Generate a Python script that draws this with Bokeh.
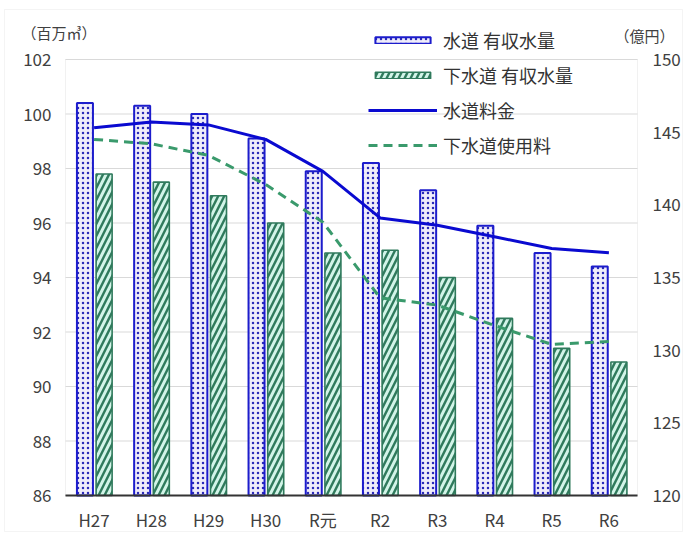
from bokeh.plotting import figure
from bokeh.models import (Range1d, LinearAxis, FixedTicker, Legend, LegendItem,
                          Label, BoxAnnotation)
from bokeh.transform import dodge
from bokeh.embed import file_html
from bokeh.resources import INLINE

years = ["H27", "H28", "H29", "H30", "R元", "R2", "R3", "R4", "R5", "R6"]
water_volume = [100.4, 100.3, 100.0, 99.1, 97.9, 98.2, 97.2, 95.9, 94.9, 94.4]
sewer_volume = [97.8, 97.5, 97.0, 96.0, 94.9, 95.0, 94.0, 92.5, 91.4, 90.9]
water_fee = [145.3, 145.7, 145.5, 144.5, 142.3, 139.1, 138.6, 137.8, 137.0, 136.7]
sewer_fee = [144.5, 144.2, 143.4, 141.4, 138.8, 133.6, 133.1, 131.7, 130.4, 130.6]
left_ticks = [86, 88, 90, 92, 94, 96, 98, 100, 102]
right_ticks = [120, 125, 130, 135, 140, 145, 150]
series_names = ["水道 有収水量", "下水道 有収水量", "水道料金", "下水道使用料"]
left_title = "（百万㎥）"
right_title = "（億円）"

FONT = "Noto Sans CJK JP"
TXT = "#404040"

# canvas size and plot-box / outer-border positions (pixels inside the canvas)
W, H = 686, 535
BOX_L, BOX_R, BOX_T, BOX_B = 65, 637, 59, 495
OUT_L, OUT_R, OUT_T, OUT_B = 4, 682, 9, 531

idx = list(range(len(years)))
n = len(years)
x0, x1 = -0.5, n - 0.5
xs = (BOX_R - BOX_L) / (x1 - x0)
lo, hi = left_ticks[0], left_ticks[-1]
ys = (BOX_B - BOX_T) / (hi - lo)
rlo, rhi = right_ticks[0], right_ticks[-1]
rs = (BOX_B - BOX_T) / (rhi - rlo)

xstart = x0 - BOX_L / xs
ystart = lo - (H - BOX_B) / ys


def px_x(px):
    return xstart + px / xs


def px_y(py):
    return ystart + (H - py) / ys


data = dict(x=idx, year=years, wv=water_volume, sv=sewer_volume, wf=water_fee, sf=sewer_fee)

p = figure(width=W, height=H,
           x_range=Range1d(xstart, x1 + (W - BOX_R) / xs),
           y_range=Range1d(ystart, hi + BOX_T / ys),
           x_axis_location=None, y_axis_location=None,
           output_backend="svg", toolbar_location=None,
           min_border=0)
p.extra_y_ranges = {"fee": Range1d(rlo - (H - BOX_B) / rs, rhi + BOX_T / rs)}
p.outline_line_color = None
p.xgrid.visible = False
p.ygrid.visible = False

# outer chart border
p.add_layout(BoxAnnotation(left=px_x(OUT_L), right=px_x(OUT_R), top=px_y(OUT_T),
                           bottom=px_y(OUT_B), fill_alpha=0, line_color="#d9d9d9",
                           line_width=1, level="underlay"))
# grid lines and plot box
p.segment(x0=[x0] * len(left_ticks), x1=[x1] * len(left_ticks), y0=left_ticks, y1=left_ticks,
          line_color="#d9d9d9", line_width=1)
p.add_layout(BoxAnnotation(left=x0, right=x1, bottom=lo, top=hi, fill_alpha=0,
                           line_color="#d0d0d0", line_width=1, level="underlay"))

r1 = p.vbar(x=dodge("x", -0.16), top="wv", bottom=lo,
            width=0.28, source=data, fill_color="#efecfa", line_color="#1c1ccc",
            line_width=2, hatch_pattern="dot", hatch_color="#2a2ab8",
            hatch_scale=5, hatch_weight=1.6)
r2 = p.vbar(x=dodge("x", 0.175), top="sv", bottom=lo,
            width=0.28, source=data, fill_color="#d2f4e8", line_color="#2f7a5c",
            line_width=1.6, hatch_pattern="right_diagonal_line", hatch_color="#2f7a5c",
            hatch_scale=12, hatch_weight=2.4)
r3 = p.line(x="x", y="wf", source=data, y_range_name="fee",
            line_color="#0a0ad0", line_width=3)
r4 = p.line(x="x", y="sf", source=data, y_range_name="fee",
            line_color="#3a9a6c", line_width=3, line_dash="9 6")

ax_l = LinearAxis(fixed_location=x0, ticker=FixedTicker(ticks=left_ticks), bounds=(lo, hi))
ax_r = LinearAxis(y_range_name="fee", fixed_location=x1,
                  ticker=FixedTicker(ticks=right_ticks), bounds=(rlo, rhi))
ax_b = LinearAxis(fixed_location=lo, ticker=FixedTicker(ticks=idx), bounds=(x0, x1),
                  major_label_overrides={i: y for i, y in zip(idx, years)})
p.add_layout(ax_l, "left")
p.add_layout(ax_r, "right")
p.add_layout(ax_b, "below")

for ax in (ax_l, ax_r, ax_b):
    ax.major_tick_line_color = None
    ax.minor_tick_line_color = None
    ax.major_tick_out = 0
    ax.major_tick_in = 0
    ax.minor_tick_out = 0
    ax.minor_tick_in = 0
    ax.major_label_text_font = FONT
    ax.major_label_text_font_size = "17px"
    ax.major_label_text_color = TXT
ax_l.axis_line_color = None
ax_r.axis_line_color = None
ax_l.major_label_standoff = 14
ax_r.major_label_standoff = 15
ax_b.axis_line_color = "#333333"
ax_b.axis_line_width = 2
ax_b.major_label_standoff = 11

legend = Legend(items=[LegendItem(label=series_names[0], renderers=[r1]),
                       LegendItem(label=series_names[1], renderers=[r2]),
                       LegendItem(label=series_names[2], renderers=[r3]),
                       LegendItem(label=series_names[3], renderers=[r4])],
                location=(368, 377), orientation="vertical")
legend.background_fill_alpha = 0
legend.border_line_color = None
legend.padding = 0
legend.margin = 0
legend.spacing = 9
legend.glyph_width = 69
legend.glyph_height = 8
legend.label_height = 19
legend.label_standoff = 6
legend.label_text_font = FONT
legend.label_text_font_size = "18px"
legend.label_text_color = "#333333"
p.add_layout(legend)

p.add_layout(Label(x=21, y=H - 32, x_units="screen", y_units="screen", text=left_title,
                   text_baseline="middle", text_font=FONT, text_font_size="15px",
                   text_color=TXT))
p.add_layout(Label(x=614, y=H - 35, x_units="screen", y_units="screen", text=right_title,
                   text_baseline="middle", text_font=FONT, text_font_size="15px",
                   text_color=TXT))

open("out.html", "w").write(file_html(p, INLINE))
